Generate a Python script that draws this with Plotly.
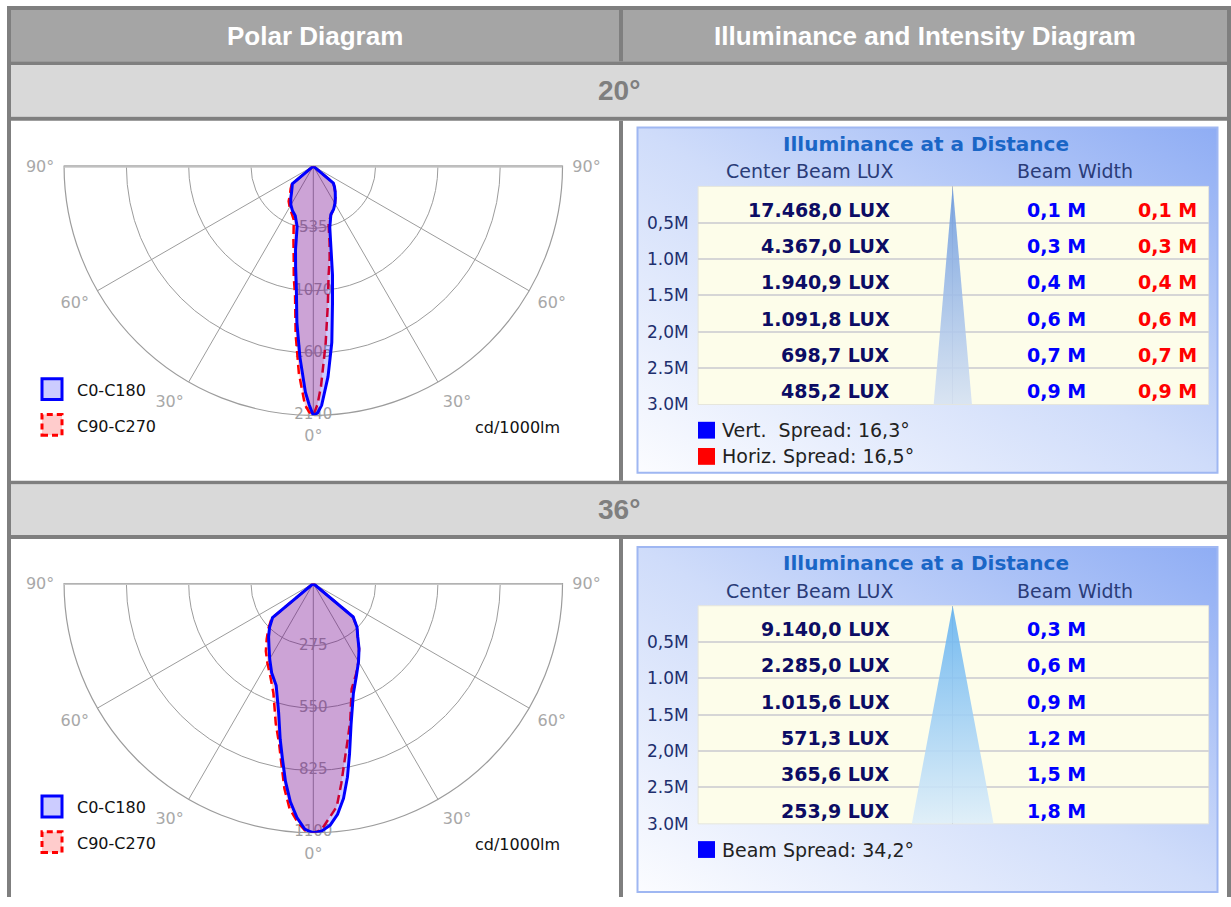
import base64
import numpy as np
import plotly.graph_objects as go

W, H = 1231, 907

# ---------------- data ----------------
gamma = [0, 1, 2, 4, 6, 8, 10, 12, 15, 20, 25, 30, 35, 40, 45, 50, 55, 60, 70, 80, 90]
c0_20 = [2140, 2120, 2055, 1812, 1521, 1185, 950, 734, 547, 441, 411, 372, 330, 293, 258, 225, 0, 0, 0, 0, 0]
c180_20 = [2140, 2049, 1943, 1646, 1348, 1047, 875, 734, 537, 453, 423, 385, 337, 290, 258, 235, 0, 0, 0, 0, 0]
c90_20 = [2140, 2047, 1893, 1523, 1195, 944, 808, 672, 505, 445, 410, 372, 330, 293, 258, 225, 0, 0, 0, 0, 0]
c270_20 = [2140, 2110, 2052, 1781, 1451, 1125, 967, 809, 659, 490, 443, 406, 369, 310, 275, 240, 0, 0, 0, 0, 0]

c0_36 = [1100, 1097, 1093, 1069, 1024, 958, 868, 769, 644, 517, 450, 399, 352, 305, 273, 230, 0, 0, 0, 0, 0]
c180_36 = [1100, 1093, 1085, 1036, 969, 882, 785, 703, 591, 479, 435, 385, 341, 307, 273, 235, 0, 0, 0, 0, 0]
c90_36 = [1100, 1094, 1085, 1035, 990, 890, 795, 720, 630, 495, 445, 399, 352, 305, 273, 228, 0, 0, 0, 0, 0]
c270_36 = [1100, 1096, 1090, 1050, 1000, 915, 810, 725, 640, 515, 450, 405, 365, 320, 280, 240, 0, 0, 0, 0, 0]

ring_ticks_20 = [535, 1070, 1605, 2140]
ring_ticks_36 = [275, 550, 825, 1100]
# angular tick labels (plotly reports the lower half as 270°..450°)
angle_alias = {"270°": "90°", "300°": "60°", "330°": "30°", "360°": "0°",
               "390°": "30°", "420°": "60°", "450°": "90°"}

distances = [0.5, 1.0, 1.5, 2.0, 2.5, 3.0]
distance_labels = ["0,5M", "1.0M", "1.5M", "2,0M", "2.5M", "3.0M"]
lux_20 = [17468.0, 4367.0, 1940.9, 1091.8, 698.7, 485.2]
vwidth_20 = [0.1, 0.3, 0.4, 0.6, 0.7, 0.9]
hwidth_20 = [0.1, 0.3, 0.4, 0.6, 0.7, 0.9]
vspread_20 = 16.3
hspread_20 = 16.5
lux_36 = [9140.0, 2285.0, 1015.6, 571.3, 365.6, 253.9]
width_36 = [0.3, 0.6, 0.9, 1.2, 1.5, 1.8]
spread_36 = 34.2

section_titles = ["20°", "36°"]
header_titles = ["Polar Diagram", "Illuminance and Intensity Diagram"]


# ---------------- helpers ----------------
def X(p):
    return p / W


def Y(p):
    return 1 - p / H


def eu(v, dec=1):
    s = f"{v:,.{dec}f}"
    return s.replace(",", "#").replace(".", ",").replace("#", ".")


FONT = "DejaVu Sans"
HEAD_FONT = "Liberation Sans, Arial, sans-serif"

fig = go.Figure()
shapes = []
annotations = []
images = []

# ---------------- page table frame ----------------
BORDER = "#7f7f7f"


def rect(x0, y0, x1, y1, fill, line=None, layer="below", **kw):
    d = dict(type="rect", xref="paper", yref="paper", x0=X(x0), x1=X(x1), y0=Y(y1), y1=Y(y0),
             fillcolor=fill, layer=layer, line=dict(width=0) if line is None else line)
    d.update(kw)
    shapes.append(d)


rect(7, 6, 1231, 10, BORDER)
rect(7, 6, 11, 907, BORDER)
rect(1227, 6, 1231, 907, BORDER)
rect(11, 10, 1227, 62, "#a5a5a5")
rect(11, 62, 1227, 66, BORDER)
rect(11, 66, 1227, 118, "#d9d9d9")
rect(11, 118, 1227, 122, BORDER)
rect(619, 10, 623, 62, BORDER)
rect(619, 122, 623, 486, BORDER)
rect(11, 486, 1227, 490, BORDER)
rect(11, 490, 1227, 541, "#d9d9d9")
rect(11, 541, 1227, 545, BORDER)
rect(619, 545, 623, 907, BORDER)


def ann(x, y, text, size, color, xanchor="center", bold=False, family=FONT, yref="paper", yshift=0,
        xref="paper"):
    if bold:
        text = f"<b>{text}</b>"
    annotations.append(dict(x=x, y=y, xref=xref, yref=yref, text=text, showarrow=False,
                            xanchor=xanchor, yanchor="middle", yshift=yshift,
                            font=dict(family=family, size=size, color=color)))


ann(X(315), Y(36), header_titles[0], 26, "white", bold=True, family=HEAD_FONT)
ann(X(925), Y(36), header_titles[1], 26, "white", bold=True, family=HEAD_FONT)
ann(X(619), Y(92), section_titles[0], 28, "#7f7f7f", bold=True, family=HEAD_FONT)
ann(X(619), Y(515.5), section_titles[1], 28, "#7f7f7f", bold=True, family=HEAD_FONT)

# ---------------- polar diagrams ----------------
CX, R_PX = 313.3, 252.0
polar_centers = [168.0, 590.0]


def add_polar(sub, cy, ticks, c0, c180, c90, c270):
    rmax = ticks[-1]
    # 90° horizontal line
    fig.add_trace(go.Scatterpolar(r=[rmax, 0, rmax], theta=[-90, 0, 90], mode="lines", subplot=sub,
                                  cliponaxis=False, line=dict(color="#c8c8c8", width=3),
                                  hoverinfo="skip", showlegend=False))
    # ring labels
    fig.add_trace(go.Scatterpolar(r=ticks, theta=[0] * len(ticks), mode="text", subplot=sub,
                                  text=[str(t) for t in ticks], cliponaxis=False,
                                  textfont=dict(family=FONT, size=15, color="#a0a0a0"),
                                  hoverinfo="skip", showlegend=False))
    theta_full = [-g for g in gamma[::-1]] + gamma[1:]
    fig.add_trace(go.Scatterpolar(r=c270[::-1] + c90[1:], theta=theta_full, mode="lines", subplot=sub,
                                  fill="toself", fillcolor="rgba(255,0,0,0.2)",
                                  line=dict(color="#ff0000", width=2.5, dash="9px,5px"),
                                  name="C90-C270", hoverinfo="skip", showlegend=False))
    fig.add_trace(go.Scatterpolar(r=c180[::-1] + c0[1:], theta=theta_full, mode="lines", subplot=sub,
                                  fill="toself", fillcolor="rgba(0,0,255,0.2)",
                                  line=dict(color="#0000ff", width=3),
                                  name="C0-C180", hoverinfo="skip", showlegend=False))
    dom = dict(x=[X(CX - R_PX), X(CX + R_PX)], y=[Y(cy + R_PX), Y(cy)])
    return dict(domain=dom, sector=[180, 360], bgcolor="white",
                radialaxis=dict(range=[0, rmax], tickmode="array", tickvals=ticks, showticklabels=False,
                                ticks="", showline=False, gridcolor="#9c9c9c", gridwidth=1.2,
                                layer="below traces"),
                angularaxis=dict(rotation=270, direction="counterclockwise", tickmode="linear", tick0=0,
                                 dtick=30, showticklabels=True, labelalias=angle_alias,
                                 tickfont=dict(family=FONT, size=16, color="#a8a8a8"),
                                 ticks="outside", ticklen=6, tickcolor="rgba(0,0,0,0)", showline=True,
                                 linecolor="#9c9c9c", linewidth=1.2, showgrid=True,
                                 gridcolor="#9c9c9c", gridwidth=1.2, layer="below traces"))


polar1 = add_polar("polar", polar_centers[0], ring_ticks_20, c0_20, c180_20, c90_20, c270_20)
polar2 = add_polar("polar2", polar_centers[1], ring_ticks_36, c0_36, c180_36, c90_36, c270_36)

for cy in polar_centers:
    oy = cy - 168.0
    rect(42, 383 + oy, 62, 404 + oy, "#ccccff", line=dict(color="#0000ff", width=3), layer="above")
    rect(42, 419 + oy, 62, 440 + oy, "#ffcccc", line=dict(color="#ff0000", width=3, dash="6px,4px"),
         layer="above")
    ann(X(75), Y(395 + oy), "C0-C180", 16, "#111111", xanchor="left")
    ann(X(75), Y(431 + oy), "C90-C270", 16, "#111111", xanchor="left")
    ann(X(562), Y(432 + oy), "cd/1000lm", 16, "#111111", xanchor="right")

# ---------------- illuminance panels ----------------
svg = ("<svg xmlns='http://www.w3.org/2000/svg' width='580' height='349' viewBox='0 0 580 349' "
       "preserveAspectRatio='none'><defs><linearGradient id='g' x1='0' y1='1' x2='1' y2='0'>"
       "<stop offset='0' stop-color='#fbfcff'/><stop offset='0.5' stop-color='#cfdcfa'/>"
       "<stop offset='1' stop-color='#8fadf4'/></linearGradient></defs>"
       "<rect width='580' height='349' fill='url(#g)'/></svg>")
GRAD = "data:image/svg+xml;base64," + base64.b64encode(svg.encode()).decode()

PX_PER_M = 44.3
TAB_L, TAB_R, CONE_X = 698.1, 1208.6, 952.7
panel_tops = [129.0, 553.0]


def add_panel(idx, T, lux, widths, spreads, cone_colors, legend_items):
    xa = "x" if idx == 0 else "x2"
    ya = "y" if idx == 0 else "y2"
    images.append(dict(source=GRAD, xref="paper", yref="paper", x=X(637.5), y=Y(T),
                       sizex=(1217.5 - 637.5) / W, sizey=349 / H, sizing="stretch",
                       xanchor="left", yanchor="top", layer="below"))
    rect(637.5, T, 1217.5, T + 349, "rgba(0,0,0,0)", line=dict(color="#9fb7f2", width=2))
    shapes.append(dict(type="rect", xref=f"{xa} domain", yref=f"{ya} domain", x0=0, x1=1, y0=0, y1=1,
                       fillcolor="#fdfdea", line=dict(color="#e6e6dc", width=1), layer="below"))
    # cone
    d_max = distances[-1]
    hl = d_max * np.tan(np.radians(spreads[0] / 2))
    hr = d_max * np.tan(np.radians(spreads[-1] / 2))
    fig.add_trace(go.Scatter(x=[0, hr, -hl, 0], y=[0, d_max, d_max, 0], mode="lines", fill="toself",
                             line=dict(width=0),
                             fillgradient=dict(type="vertical", start=0, stop=d_max,
                                               colorscale=[[0, cone_colors[0]], [1, cone_colors[1]]]),
                             xaxis=xa, yaxis=ya, hoverinfo="skip", showlegend=False))
    # texts
    ann(X(925.6), Y(T + 16.7), "Illuminance at a Distance", 20, "#1a66c6", bold=True)
    ann(X(809), Y(T + 44.3), "Center Beam LUX", 19, "#2a3c78")
    ann(X(1075), Y(T + 44.3), "Beam Width", 19, "#2a3c78")
    for i, d in enumerate(distances):
        yc = d - 0.25
        ann(X(892), yc, f"{eu(lux[i])} LUX", 19, "#0c0c64", xanchor="right", bold=True, yref=ya, yshift=-5)
        ann(X(1088), yc, f"{eu(widths[0][i])} M", 19, "#0000ff", xanchor="right", bold=True, yref=ya,
            yshift=-5)
        if len(widths) > 1:
            ann(X(1199), yc, f"{eu(widths[1][i])} M", 19, "#ff0000", xanchor="right", bold=True, yref=ya,
                yshift=-5)
    for k, (txt, col) in enumerate(legend_items):
        yy = T + 306 + 26.5 * k
        rect(698, yy - 8.5, 715, yy + 8.5, col)
        ann(X(720), Y(yy), txt, 19, "#222222", xanchor="left")
    return xa, ya


add_panel(0, panel_tops[0], lux_20, [vwidth_20, hwidth_20], [vspread_20, hspread_20],
          ["rgba(105,152,222,0.88)", "rgba(214,226,243,0.88)"],
          [(f"Vert.\u00a0 Spread: {eu(vspread_20)}°", "#0000ff"),
           (f"Horiz. Spread: {eu(hspread_20)}°", "#ff0000")])
add_panel(1, panel_tops[1], lux_36, [width_36], [spread_36, spread_36],
          ["rgba(96,176,240,0.88)", "rgba(222,238,250,0.88)"],
          [(f"Beam Spread: {eu(spread_36)}°", "#0000ff")])


def xaxis_cfg():
    return dict(domain=[X(TAB_L), X(TAB_R)],
                range=[(TAB_L - CONE_X) / PX_PER_M, (TAB_R - CONE_X) / PX_PER_M],
                showgrid=False, showticklabels=False, ticks="", zeroline=True,
                zerolinecolor="#c4c4c4", zerolinewidth=1, showline=False, fixedrange=True)


def yaxis_cfg(T, xa):
    return dict(domain=[Y(T + 280), Y(T + 59.5)], range=[distances[-1], 0], anchor=xa,
                tickmode="array", tickvals=distances, ticktext=distance_labels,
                tickfont=dict(family=FONT, size=17, color="#1e2f6e"),
                ticks="outside", ticklen=5, tickcolor="rgba(0,0,0,0)",
                showgrid=True, gridcolor="#d6d6d6", gridwidth=2, zeroline=False, showline=False,
                fixedrange=True)


fig.update_layout(
    width=W, height=H, autosize=False,
    margin=dict(l=0, r=0, t=0, b=0, pad=0),
    paper_bgcolor="white", plot_bgcolor="rgba(0,0,0,0)",
    showlegend=False,
    polar=polar1, polar2=polar2,
    xaxis=dict(xaxis_cfg(), anchor="y"),
    yaxis=yaxis_cfg(panel_tops[0], "x"),
    xaxis2=dict(xaxis_cfg(), anchor="y2"),
    yaxis2=yaxis_cfg(panel_tops[1], "x2"),
    shapes=shapes, annotations=annotations, images=images,
)

fig.write_html(
    "out.html",
    config={"displayModeBar": False},
    post_script=("document.documentElement.style.margin='0';document.body.style.margin='0';"
                 "document.body.style.padding='0';"),
)
